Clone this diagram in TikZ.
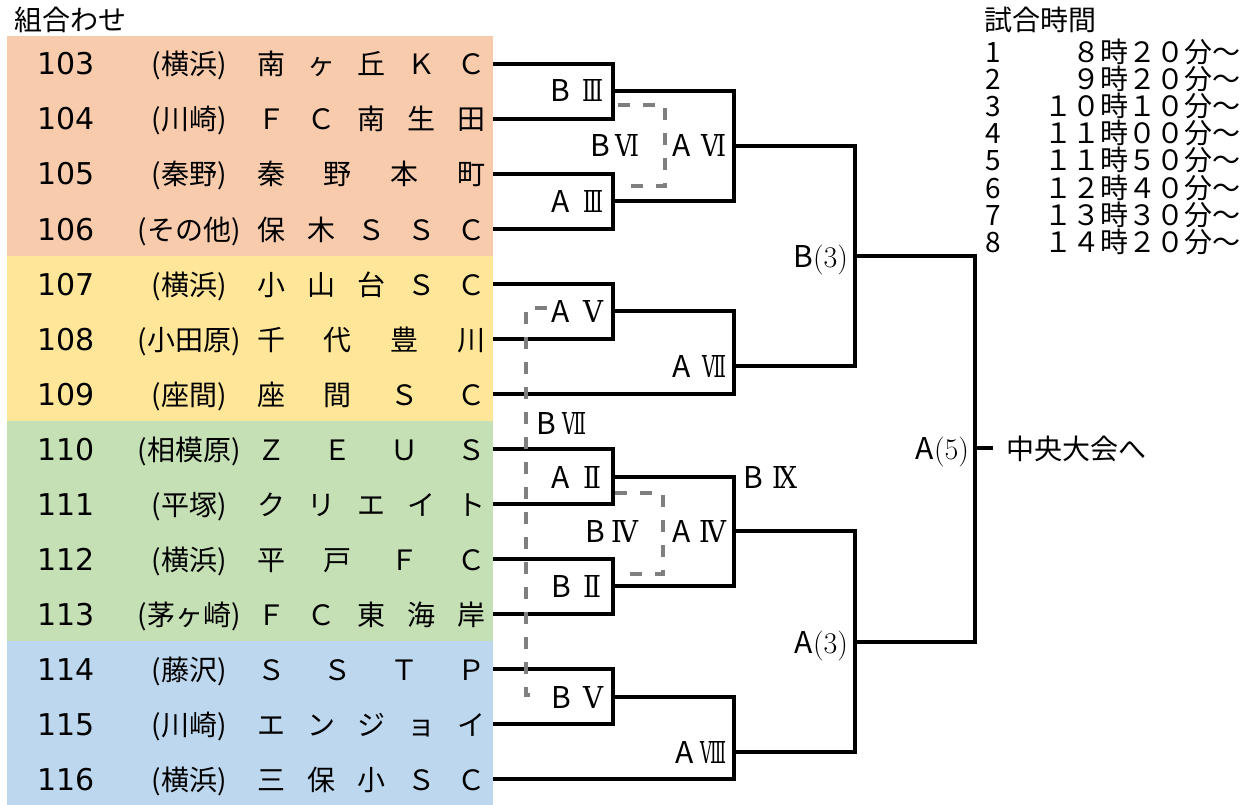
\documentclass[tikz,border=0pt]{standalone}
\usepackage{fontspec}
\newfontfamily\jp{Noto Sans CJK JP}
\newfontfamily\lat{DejaVu Sans}
\newfontfamily\rnf{DejaVu Serif}
\definecolor{bgor}{HTML}{F8CBAD}
\definecolor{bgye}{HTML}{FFE699}
\definecolor{bggr}{HTML}{C5E0B4}
\definecolor{bgbl}{HTML}{BDD7EE}
\definecolor{dgray}{HTML}{7F7F7F}
\newcommand\pn[1]{{\rmfamily\fontsize{30}{30}\selectfont(#1)}}
\newcommand\rnum[2]{\resizebox{#1pt}{22pt}{\rnf #2}}
\tikzset{
  every node/.style={inner sep=0pt, outer sep=0pt},
  jptxt/.style={font=\jp\fontsize{28}{28}\selectfont, anchor=base},
  numtxt/.style={font=\lat\fontsize{30}{30}\selectfont, anchor=base west},
  lbl/.style={font=\jp\fontsize{30}{30}\selectfont, anchor=base east},
  lett/.style={font=\jp\fontsize{30}{30}\selectfont, anchor=base west},
  rom/.style={anchor=base east},
  tmtxt/.style={font=\jp\fontsize{28}{28}\selectfont},
  brk/.style={draw=black, line width=4pt},
  dsh/.style={draw=dgray, line width=3.4pt, dash pattern=on 12pt off 13pt},
}
\newcommand\teamrow[3]{%
  \node[numtxt] (n#1) at (37,#2+11) {#1};
  \node[jptxt] (p#1) at (189,#2+11) {#3};
  \coordinate (e#1) at (493,#2);
}
\newcommand\namefive[7]{%
  \node[jptxt] (a#1) at (271,#2+11) {#3};
  \node[jptxt] (b#1) at (321,#2+11) {#4};
  \node[jptxt] (c#1) at (371,#2+11) {#5};
  \node[jptxt] (d#1) at (421,#2+11) {#6};
  \node[jptxt] (f#1) at (471,#2+11) {#7};
}
\newcommand\namefour[6]{%
  \node[jptxt] (a#1) at (271,#2+11) {#3};
  \node[jptxt] (b#1) at (337.7,#2+11) {#4};
  \node[jptxt] (c#1) at (404.3,#2+11) {#5};
  \node[jptxt] (f#1) at (471,#2+11) {#6};
}
% match label: name, letter-left x, numeral-right x, y, letter, width, numeral
\newcommand\mlabel[7]{%
  \node[lett] (#1) at (#2,#4+11) {#5};
  \node[rom] (#1n) at (#3,#4+11) {\rnum{#6}{#7}};
}
\begin{document}
\begin{tikzpicture}[x=1pt,y=-1pt]
\useasboundingbox[fill=white] (0,0) rectangle (1249,805);
% backgrounds
\fill[bgor] (7,36) rectangle (493,256);
\fill[bgye] (7,256) rectangle (493,421);
\fill[bggr] (7,421) rectangle (493,641);
\fill[bgbl] (7,641) rectangle (493,805);
% titles
\node[jptxt, anchor=base west] (title) at (14,31) {組合わせ};
\node[tmtxt, anchor=base west] (ttitle) at (984,31) {試合時間};
% time table
\foreach \i/\t [count=\k from 0] in {1/　８時２０分～,2/　９時２０分～,3/１０時１０分～,4/１１時００分～,5/１１時５０分～,6/１２時４０分～,7/１３時３０分～,8/１４時２０分～}{
  \node[tmtxt, anchor=base west] (tn\i) at (985,63+27*\k) {\i};
  \node[tmtxt, anchor=base east] (tt\i) at (1240,63+27*\k) {\t};
}
% teams
\teamrow{103}{64}{(横浜)}   \namefive{103}{64}{南}{ヶ}{丘}{Ｋ}{Ｃ}
\teamrow{104}{119}{(川崎)}  \namefive{104}{119}{Ｆ}{Ｃ}{南}{生}{田}
\teamrow{105}{174}{(秦野)}  \namefour{105}{174}{秦}{野}{本}{町}
\teamrow{106}{229}{(その他)} \namefive{106}{229}{保}{木}{Ｓ}{Ｓ}{Ｃ}
\teamrow{107}{284}{(横浜)}  \namefive{107}{284}{小}{山}{台}{Ｓ}{Ｃ}
\teamrow{108}{339}{(小田原)} \namefour{108}{339}{千}{代}{豊}{川}
\teamrow{109}{394}{(座間)}  \namefour{109}{394}{座}{間}{Ｓ}{Ｃ}
\teamrow{110}{449}{(相模原)} \namefour{110}{449}{Ｚ}{Ｅ}{Ｕ}{Ｓ}
\teamrow{111}{504}{(平塚)}  \namefive{111}{504}{ク}{リ}{エ}{イ}{ト}
\teamrow{112}{559}{(横浜)}  \namefour{112}{559}{平}{戸}{Ｆ}{Ｃ}
\teamrow{113}{614}{(茅ヶ崎)} \namefive{113}{614}{Ｆ}{Ｃ}{東}{海}{岸}
\teamrow{114}{669}{(藤沢)}  \namefour{114}{669}{Ｓ}{Ｓ}{Ｔ}{Ｐ}
\teamrow{115}{724}{(川崎)}  \namefive{115}{724}{エ}{ン}{ジ}{ョ}{イ}
\teamrow{116}{779}{(横浜)}  \namefive{116}{779}{三}{保}{小}{Ｓ}{Ｃ}
% junctions
\coordinate (j1) at (613,91);
\coordinate (j2) at (613,201);
\coordinate (j3) at (734,146);
\coordinate (j4) at (613,311);
\coordinate (j5) at (734,366);
\coordinate (j6) at (855,256);
\coordinate (j7) at (613,477);
\coordinate (j8) at (613,586);
\coordinate (j9) at (734,531);
\coordinate (j10) at (613,697);
\coordinate (j11) at (734,752);
\coordinate (j12) at (855,642);
\coordinate (j13) at (975,448);
\coordinate (fin) at (993,448);
% bracket lines
\draw[brk] (e103) -| (j1) |- (e104);
\draw[brk] (e105) -| (j2) |- (e106);
\draw[brk] (j1) -| (j3) |- (j2);
\draw[brk] (e107) -| (j4) |- (e108);
\draw[brk] (j4) -| (j5) |- (e109);
\draw[brk] (j3) -| (j6) |- (j5);
\draw[brk] (e110) -| (j7) |- (e111);
\draw[brk] (e112) -| (j8) |- (e113);
\draw[brk] (j7) -| (j9) |- (j8);
\draw[brk] (e114) -| (j10) |- (e115);
\draw[brk] (j10) -| (j11) |- (e116);
\draw[brk] (j9) -| (j12) |- (j11);
\draw[brk] (j6) -| (j13) |- (j12);
\draw[brk] (j13) -- (fin);
% dashed links
\coordinate (d1a) at (618,105); \coordinate (d1b) at (665,186); \coordinate (d1c) at (628,186);
\draw[dsh] (d1a) -| (d1b) -- (d1c);
\coordinate (d2a) at (615,493); \coordinate (d2b) at (663,574); \coordinate (d2c) at (627,574);
\draw[dsh] (d2a) -| (d2b) -- (d2c);
\coordinate (d3a) at (547,308); \coordinate (d3b) at (526,695); \coordinate (d3c) at (537,695);
\draw[dsh] (d3a) -| (d3b) -- (d3c);
% match labels
\mlabel{lB3}{550}{603}{91}{B}{21}{Ⅲ}
\mlabel{lA3}{551}{603}{201}{A}{20}{Ⅲ}
\mlabel{lB6}{590}{639}{146}{B}{24}{Ⅵ}
\mlabel{lA6}{672}{726}{146}{A}{25}{Ⅵ}
\mlabel{lA5}{551}{603}{311}{A}{20}{Ⅴ}
\mlabel{lA7}{672}{726}{366}{A}{24}{Ⅶ}
\mlabel{lB7}{536}{586}{423}{B}{24}{Ⅶ}
\mlabel{lA2}{551}{601}{477}{A}{18}{Ⅱ}
\mlabel{lB9}{743}{797}{477}{B}{25}{Ⅸ}
\mlabel{lB4}{585}{638}{531}{B}{27}{Ⅳ}
\mlabel{lA4}{672}{726}{531}{A}{27}{Ⅳ}
\mlabel{lB2}{551}{601}{586}{B}{18}{Ⅱ}
\mlabel{lB5}{551}{603}{697}{B}{20}{Ⅴ}
\mlabel{lA8}{675}{726}{752}{A}{26}{Ⅷ}
\node[lbl] (lBq3) at (848,256+11) {B\pn{3}};
\node[lbl] (lAq3) at (848,642+11) {A\pn{3}};
\node[lbl] (lAq5) at (969,448+11) {A\pn{5}};
\node[jptxt, anchor=base west] (goal) at (1006,448+11) {中央大会へ};
\end{tikzpicture}
\end{document}
